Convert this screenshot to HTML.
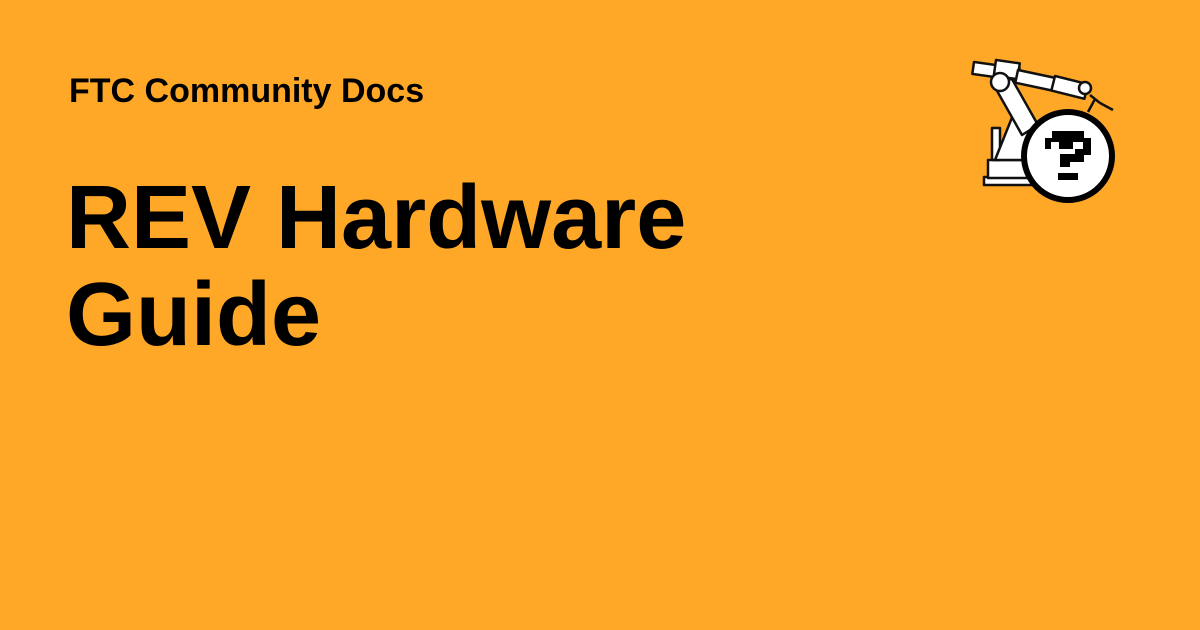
<!DOCTYPE html>
<html><head><meta charset="utf-8"><style>
html,body{margin:0;padding:0}
body{width:1200px;height:630px;background:#ffa726;position:relative;overflow:hidden;font-family:"Liberation Sans",sans-serif;color:#000}
.s{position:absolute;left:69px;top:71px;font-size:34px;font-weight:bold;line-height:40px;white-space:nowrap}
.t{position:absolute;left:66px;top:170px;font-size:90px;font-weight:bold;line-height:97px;white-space:nowrap}
svg{position:absolute;left:960px;top:50px}
</style></head><body>
<div class="s">FTC Community Docs</div>
<div class="t">REV Hardware<br>Guide</div>
<svg width="170" height="160" viewBox="0 0 170 160">
<g fill="#fff" stroke="#111" stroke-width="2.5" stroke-linejoin="round">
<rect x="24" y="127" width="56" height="8"/>
<rect x="28" y="110" width="52" height="18"/>
<rect x="32" y="78" width="8" height="32"/>
<polygon points="35,110 55,60 72,90 70,110"/>
<polygon points="32,32 48,22 78,75 62,85"/>
<rect x="14" y="12" width="46" height="12" transform="rotate(8 14 12)"/>
<rect x="36" y="10" width="24" height="16" transform="rotate(8 36 10)"/>
<rect x="58" y="20" width="38" height="13" transform="rotate(12 58 20)"/>
<rect x="95" y="26" width="34" height="15" transform="rotate(14 95 26)"/>
<circle cx="40" cy="32" r="9"/>
<circle cx="125" cy="38" r="6"/>
<path d="M130 45 L140 53 M135 49 L128 62 M140 53 L153 60" fill="none"/>
</g>
<circle cx="108" cy="106" r="44" fill="#fff" stroke="#000" stroke-width="6"/>
<g fill="#000">
<rect x="85" y="88" width="46" height="11"/>
<rect x="92" y="81" width="32" height="8"/>
<rect x="115" y="99" width="16" height="6"/>
<rect x="100" y="104" width="24" height="8"/>
<rect x="100" y="111" width="10" height="6"/>
<rect x="98" y="123" width="20" height="7"/>
</g>
<rect x="91" y="92" width="8" height="7" fill="#fff"/>
<rect x="113" y="92" width="10" height="7" fill="#fff"/>
</svg>
</body></html>
